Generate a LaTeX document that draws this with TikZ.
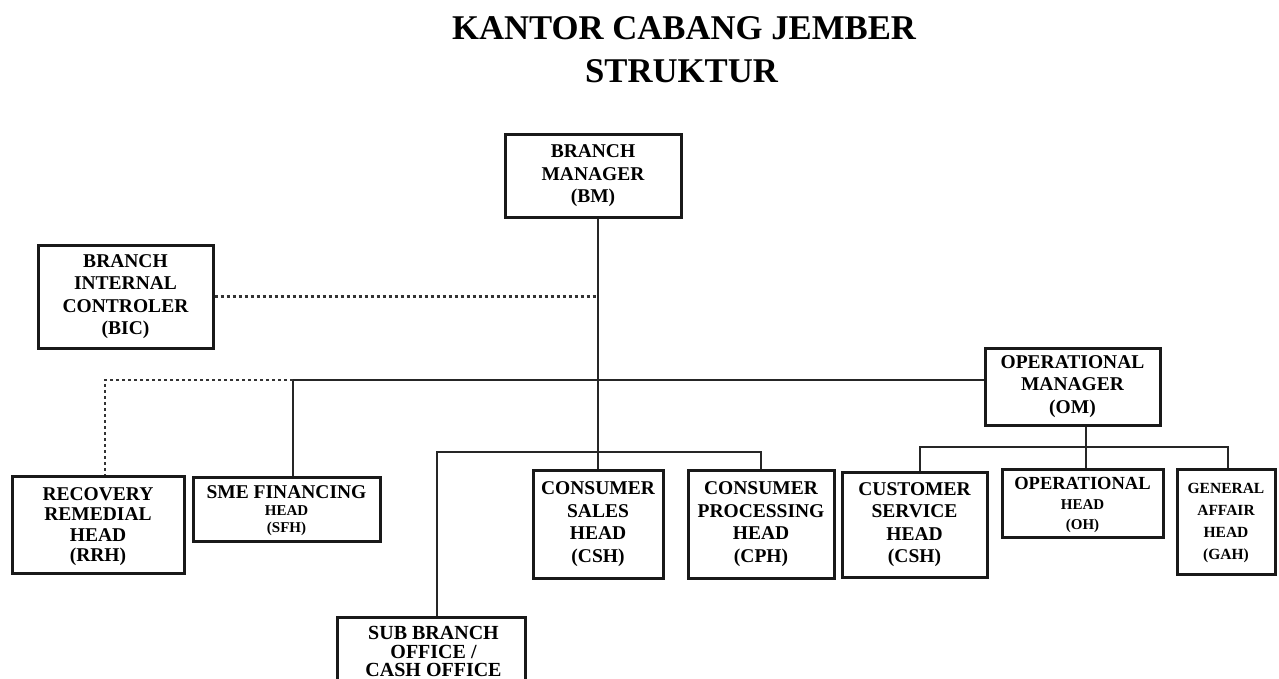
\documentclass[tikz,border=0pt]{standalone}
\usepackage{fontspec}
\setmainfont{Liberation Serif}
\begin{document}
\begin{tikzpicture}[x=1pt,y=-1pt,
  box/.style={draw=black!90, line width=3pt, align=center, inner sep=0pt,
    font=\fontsize{19.5}{22.5}\selectfont\bfseries},
  conn/.style={line width=2.4pt, draw=black!85},
  dotconn/.style={line width=2.4pt, draw=black!80, dash pattern=on 3pt off 3pt},
  ttl/.style={anchor=base, font=\fontsize{34.7}{36}\selectfont\bfseries},
  sbotxt/.style={anchor=base, font=\fontsize{20}{18.5}\selectfont\bfseries}]
\useasboundingbox (0,0) rectangle (1279,679);
\clip (0,0) rectangle (1279,679);
% title
\node[ttl] (t1) at (684,40) {KANTOR CABANG JEMBER};
\node[ttl] (t2) at (681.5,83) {STRUKTUR};
% boxes
\node[box, minimum width=176, minimum height=82] (BM) at (593,176) {BRANCH\\MANAGER\\(BM)};
\node[box, minimum width=175, minimum height=103] (BIC) at (125.5,296.5) {BRANCH\\INTERNAL\\CONTROLER\\(BIC)};
\node[box, minimum width=175, minimum height=77] (OM) at (1072.5,386.5) {OPERATIONAL\\MANAGER\\(OM)};
\node[box, minimum width=172, minimum height=97, font=\fontsize{19.5}{20.5}\selectfont\bfseries, text depth=-4pt] (RRH) at (98,524.5) {RECOVERY\\REMEDIAL\\HEAD\\(RRH)};
\node[box, minimum width=187, minimum height=64, font=\fontsize{19.5}{17}\selectfont\bfseries, text depth=-3pt] (SFH) at (286.5,509) {SME FINANCING\\{\fontsize{15}{16}\selectfont HEAD}\\{\fontsize{15}{16}\selectfont (SFH)}};
\node[box, minimum width=130, minimum height=108] (CSH) at (598,524) {CONSUMER\\SALES\\HEAD\\(CSH)};
\node[box, minimum width=146, minimum height=108] (CPH) at (761,524) {CONSUMER\\PROCESSING\\HEAD\\(CPH)};
\node[box, minimum width=145, minimum height=105] (CuSH) at (914.5,524.5) {CUSTOMER\\SERVICE\\HEAD\\(CSH)};
\node[box, minimum width=161, minimum height=68, font=\fontsize{18.5}{20}\selectfont\bfseries, text depth=-2pt] (OH) at (1082.5,503) {OPERATIONAL\\{\fontsize{15}{20}\selectfont HEAD}\\{\fontsize{15}{20}\selectfont (OH)}};
\node[box, minimum width=98, minimum height=105, font=\fontsize{15.5}{22}\selectfont\bfseries, text depth=-2pt] (GAH) at (1226,521.5) {GENERAL\\AFFAIR\\HEAD\\(GAH)};
\node[box, minimum width=188, minimum height=150] (SBO) at (431,692) {};
\node[sbotxt] (SBO1) at (433.5,639) {SUB BRANCH};
\node[sbotxt] (SBO2) at (433.5,658) {OFFICE /};
\node[sbotxt] (SBO3) at (433.5,676) {CASH OFFICE};
% coordinates
\coordinate (h1) at (293,380);
\coordinate (d1) at (105,380);
\coordinate (h2) at (437,452);
\coordinate (h3) at (1086,447);
\coordinate (h3a) at (920,447);
\coordinate (h3b) at (1228,447);
% connectors
\draw[conn] (BM.south -| CSH.north) -- (CSH.north);
\draw[dotconn] (BIC.east) -- (BIC.east -| CSH.north);
\draw[conn] (h1) -- (h1 -| OM.west);
\draw[conn] (h1) -- (h1 |- SFH.north);
\draw[dotconn] (h1) -- (d1) -- (d1 |- RRH.north);
\draw[conn] (h2 |- SBO.north) -- (h2) -- (h2 -| CPH.north) -- (CPH.north);
\draw[conn] (OM.south -| h3) -- (h3 |- OH.north);
\draw[conn] (h3a |- CuSH.north) -- (h3a) -- (h3b) -- (h3b |- GAH.north);
\end{tikzpicture}
\end{document}
